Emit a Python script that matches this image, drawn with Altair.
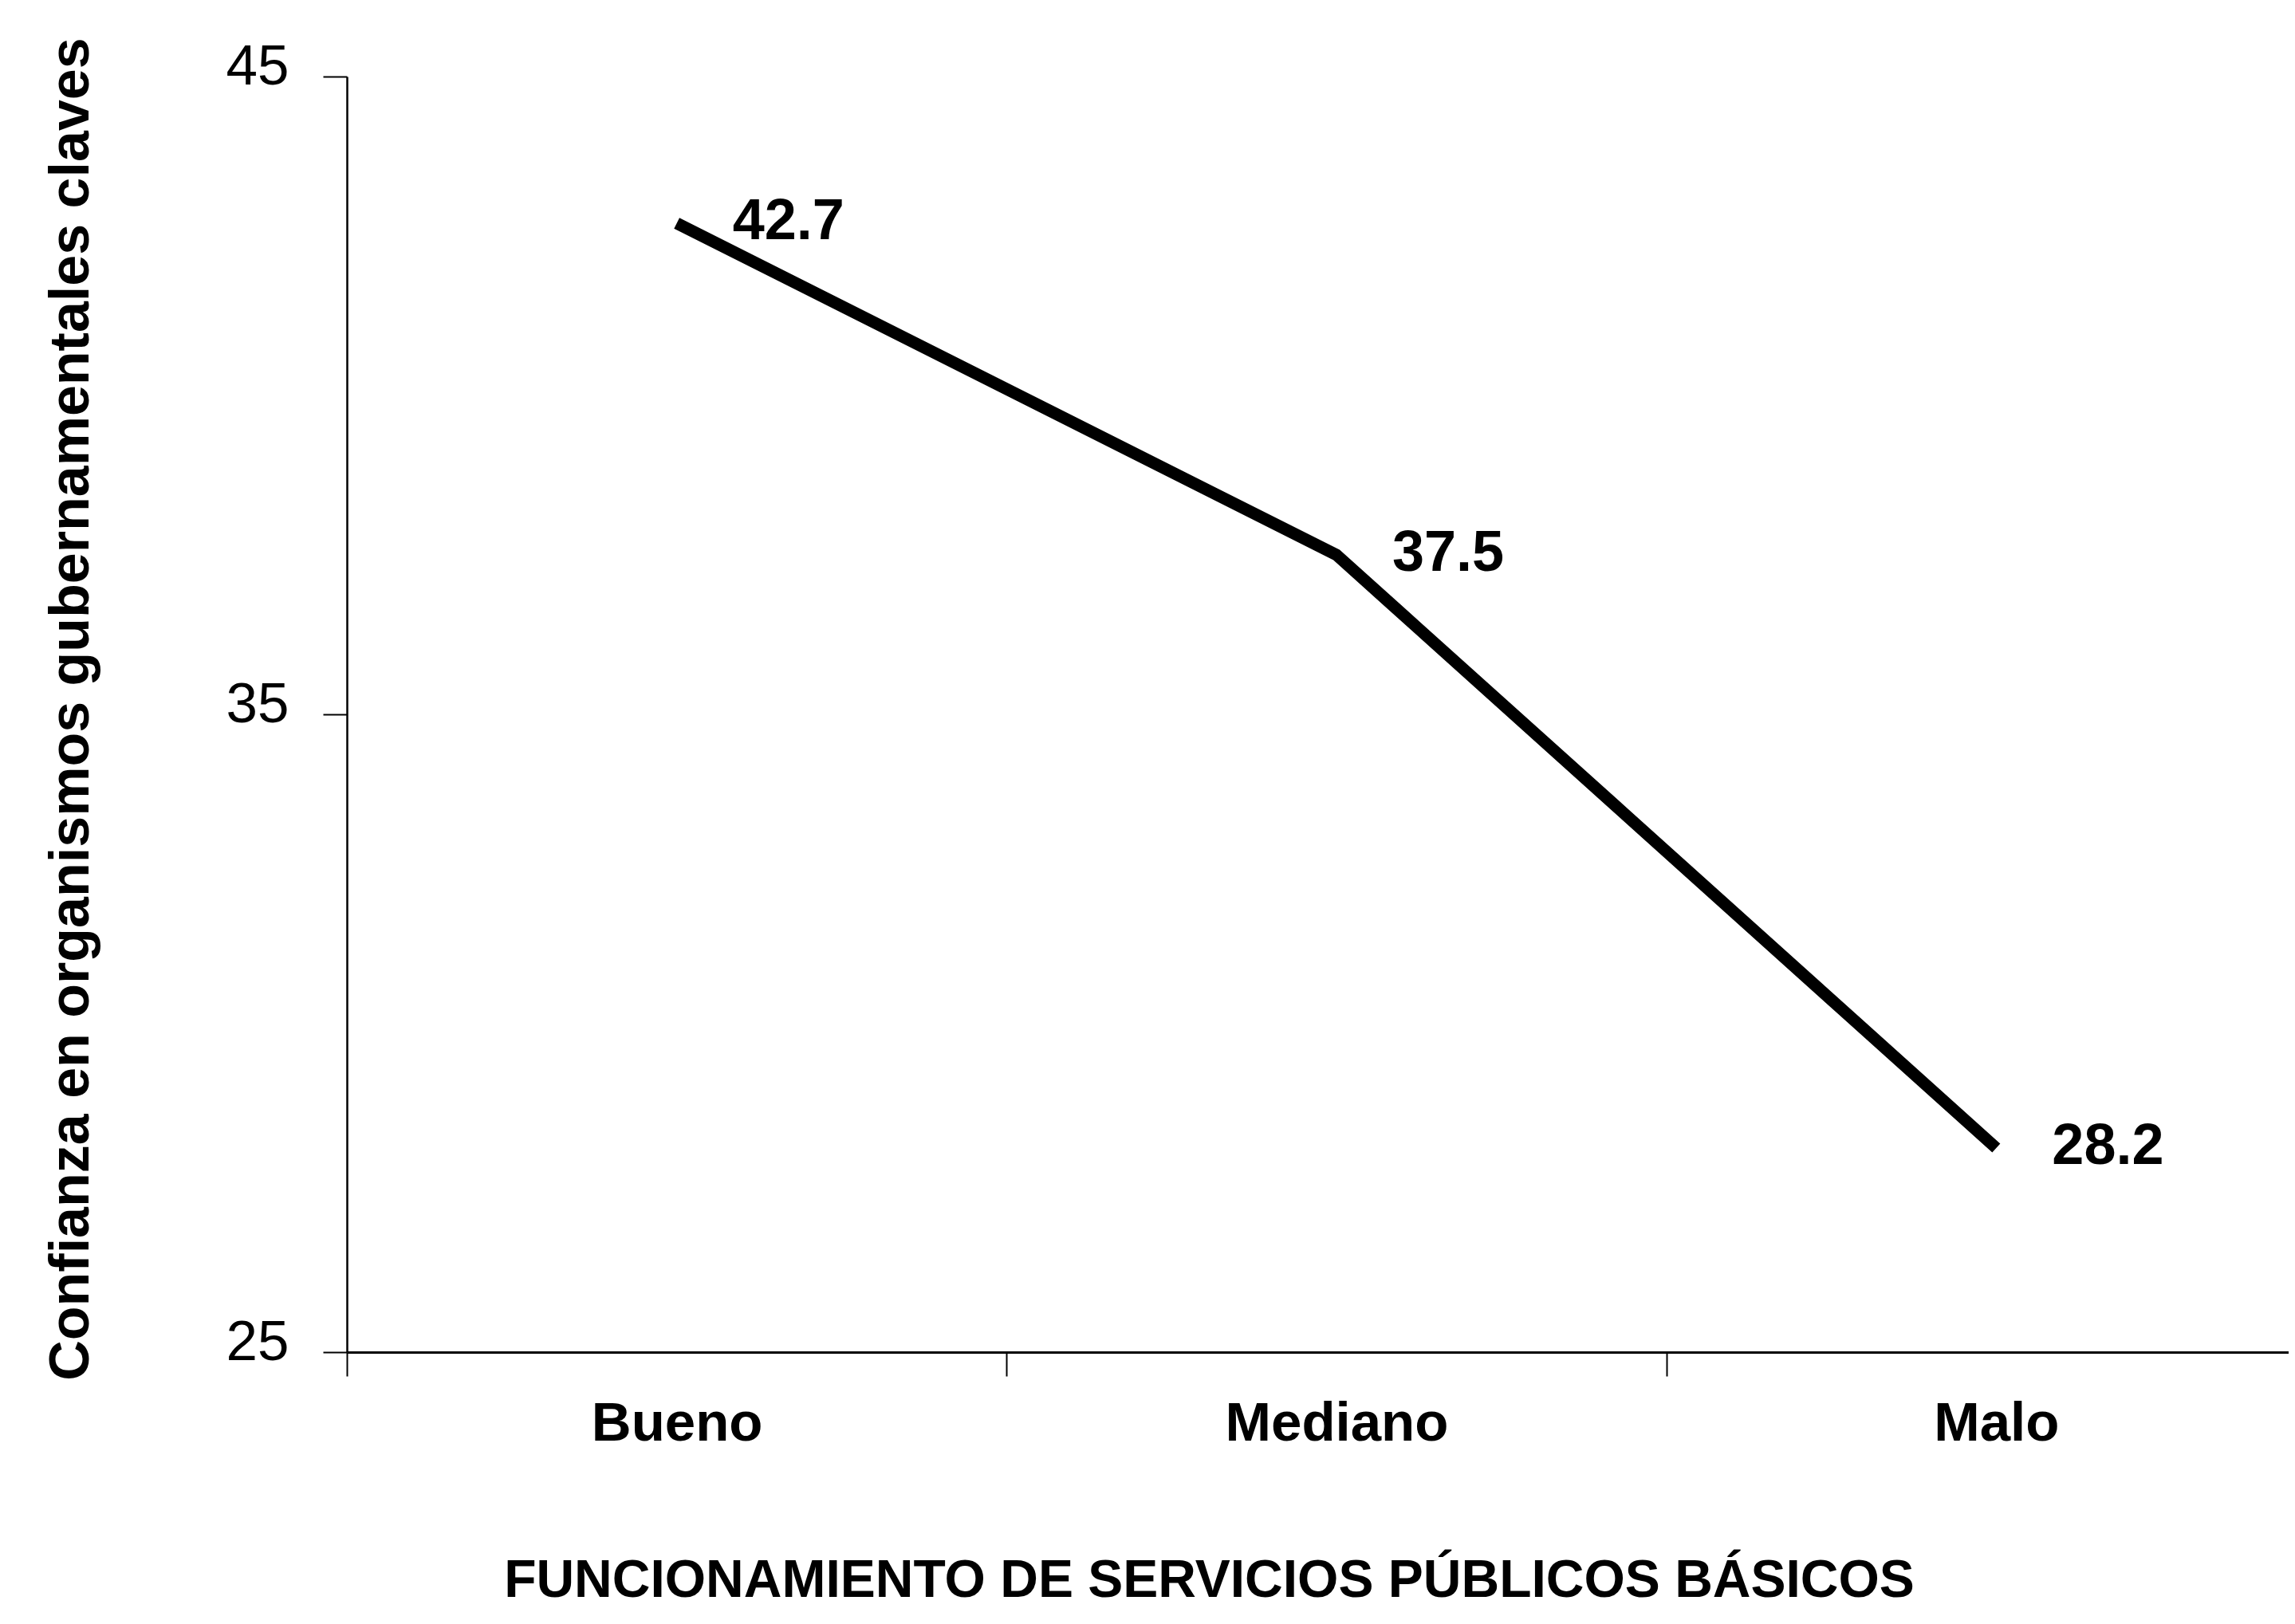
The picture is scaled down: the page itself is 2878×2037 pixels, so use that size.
import altair as alt
import pandas as pd

categorias = ["Bueno", "Mediano", "Malo"]
valores = [42.7, 37.5, 28.2]
etiquetas = ["42.7", "37.5", "28.2"]
y_ticks = [25, 35, 45]

df = pd.DataFrame({"cat": categorias, "val": valores, "lab": etiquetas})

FONT = "Liberation Sans, Arial, sans-serif"

x_enc = alt.X(
    "cat:N",
    sort=categorias,
    scale=alt.Scale(type="band", range=[0, 2482], paddingInner=0, paddingOuter=0),
    axis=alt.Axis(
        title="FUNCIONAMIENTO DE SERVICIOS PÚBLICOS BÁSICOS",
        tickBand="extent",
        labelAngle=0,
        labelFont=FONT,
        labelFontSize=69,
        labelFontWeight="bold",
        labelColor="black",
        labelPadding=25,
        labelLimit=0,
        tickSize=30,
        tickWidth=2,
        tickColor="black",
        domainColor="black",
        domainWidth=3,
        grid=False,
        titleFont=FONT,
        titleFontSize=66,
        titleFontWeight="bold",
        titleColor="black",
        titleX=1081,
        titleY=306,
        titleAlign="center",
        titleBaseline="alphabetic",
        titleLimit=0,
    ),
)

y_enc = alt.Y(
    "val:Q",
    scale=alt.Scale(domain=[25, 45], nice=False, zero=False),
    axis=alt.Axis(
        title="Confianza en organismos gubernamentales claves",
        values=y_ticks,
        format="d",
        labelFont=FONT,
        labelFontSize=71,
        labelFontWeight="normal",
        labelColor="black",
        labelPadding=43,
        labelOffset=-12,
        labelLimit=0,
        tickSize=30,
        tickWidth=2,
        tickColor="black",
        domainColor="black",
        domainWidth=2.5,
        grid=False,
        titleFont=FONT,
        titleFontSize=70,
        titleFontWeight="bold",
        titleColor="black",
        titleAngle=270,
        titleX=-325,
        titleY=793,
        titleAlign="center",
        titleBaseline="alphabetic",
        titleLimit=0,
    ),
)

line = alt.Chart(df).mark_line(color="black", strokeWidth=15, strokeCap="butt", strokeJoin="round").encode(
    x=x_enc, y=y_enc
)

text = alt.Chart(df).mark_text(
    align="left", baseline="middle", dx=70, dy=-2,
    font=FONT, fontSize=72, fontWeight="bold", color="black"
).encode(
    x=alt.X("cat:N", sort=categorias),
    y=alt.Y("val:Q"),
    text="lab:N",
)

chart = alt.layer(line, text).properties(
    width=2430,
    height=1600,
    autosize=alt.AutoSizeParams(type="none"),
    padding={"left": 427, "top": 88, "right": 5, "bottom": 325},
    background="white",
).configure_view(strokeWidth=0)

chart.save("out.html", embed_options={"renderer": "svg", "actions": False})
